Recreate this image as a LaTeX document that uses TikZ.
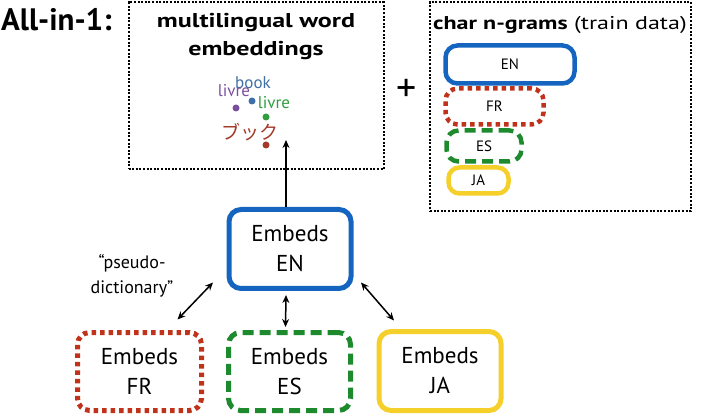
\documentclass[tikz,border=0pt]{standalone}
\usepackage{fontspec}
\setmainfont{PT Sans}
\newfontfamily\titlefont{PT Sans}[FakeStretch=1.3]
\newfontfamily\jpfont{Noto Sans CJK JP}
\usetikzlibrary{arrows.meta,calc}
\definecolor{cblue}{HTML}{1565C0}
\definecolor{cred}{HTML}{C0321A}
\definecolor{cgreen}{HTML}{1E8A2E}
\definecolor{cyellow}{HTML}{F5CF2A}
\definecolor{cpurple}{HTML}{7B4F9E}
\definecolor{wblue}{HTML}{3F6FA8}
\definecolor{wgreen}{HTML}{2E9E3E}
\definecolor{wred}{HTML}{A33A2A}
\begin{document}
\begin{tikzpicture}[x=1pt,y=-1pt,
  bigbox/.style={rounded corners=12pt, line width=5pt, align=center,
    minimum width=122pt, minimum height=79pt, inner sep=0pt,
    font=\fontsize{23}{30}\selectfont},
  smallbox/.style={rounded corners=12pt, line width=4.5pt, inner sep=0pt,
    font=\fontsize{15}{15}\selectfont},
  solidblue/.style={draw=cblue},
  dotred/.style={draw=cred, dash pattern=on 4.5pt off 4pt},
  dashgreen/.style={draw=cgreen, dash pattern=on 11pt off 6pt},
  solidyellow/.style={draw=cyellow},
  outerbox/.style={draw=black, line width=2pt, dash pattern=on 2pt off 1.6pt, inner sep=0pt},
  dbl/.style={{Stealth[length=8pt,width=7pt]}-{Stealth[length=8pt,width=7pt]}, line width=1.5pt},
  sgl/.style={-{Stealth[length=8pt,width=7pt]}, line width=1.5pt},
  dot/.style={circle, inner sep=0pt, minimum size=7pt},
  word/.style={inner sep=0pt, font=\fontsize{17}{17}\selectfont}
]
\useasboundingbox (0,0) rectangle (706,419);

% heading
\node[font=\bfseries\fontsize{31}{31}\selectfont, anchor=west, inner sep=0pt] (allin) at (1,20) {All-in-1:};

% top box
\node[outerbox, minimum width=255pt, minimum height=167pt] (topbox) at (256,86) {};
\node[font=\titlefont\bfseries\fontsize{20}{28}\selectfont, align=center] (title) at (256,37) {multilingual word\\embeddings};

\node[dot, fill=cpurple] (dpurple) at (236,108) {};
\node[dot, fill=wblue] (dblue) at (252,101) {};
\node[dot, fill=wgreen] (dgreen) at (266,117) {};
\node[dot, fill=wred] (dred) at (266,145) {};
\node[word, text=wblue] (wbook) at (253,83) {book};
\node[word, text=cpurple] (wlivre1) at (234,91) {livre};
\node[word, text=wgreen] (wlivre2) at (274,103) {livre};
\node[word, text=wred, font=\jpfont\fontsize{19}{19}\selectfont] (wja) at (250,132) {ブック};

% plus
\node[font=\fontsize{40}{40}\selectfont, inner sep=0pt] (plus) at (407,90) {+};

% right box
\node[outerbox, minimum width=261pt, minimum height=209pt] (rightbox) at (560.5,106.5) {};
\node[font=\titlefont\fontsize{18.5}{18.5}\selectfont, inner sep=0pt] (chartitle) at (560,25) {\textbf{char n-grams} (train data)};
\node[smallbox, solidblue, minimum width=129pt, minimum height=38pt] (sen) at (510,64.5) {EN};
\node[smallbox, dotred, minimum width=98pt, minimum height=36pt] (sfr) at (494.5,106.5) {FR};
\node[smallbox, dashgreen, minimum width=75pt, minimum height=31pt] (ses) at (484,146) {ES};
\node[smallbox, solidyellow, minimum width=60pt, minimum height=26pt, rounded corners=11pt] (sja) at (478.5,180.5) {JA};

% bottom boxes
\node[bigbox, solidblue] (en) at (290,249) {Embeds\\EN};
\node[bigbox, dotred, minimum width=124pt, minimum height=78pt] (fr) at (139.5,371.5) {Embeds\\FR};
\node[bigbox, dashgreen, minimum height=78pt] (es) at (289.5,371.5) {Embeds\\ES};
\node[bigbox, solidyellow] (ja) at (440,371) {Embeds\\JA};

\node[font=\fontsize{18}{25}\selectfont, align=center] (pseudo) at (132,276) {``pseudo-\\dictionary''};

% arrows
\coordinate (embtip) at (286,140);
\draw[sgl] (en.north -| embtip) -- (embtip);
\draw[dbl] ($(fr.north east)+(-26.5,-10.5)$) -- ($(en.south west)+(-13.5,-8.5)$);
\draw[dbl] ($(en.south)+(-4,4)$) -- ($(es.north)+(-4,-3)$);
\draw[dbl] ($(en.south east)+(7.5,-8.5)$) -- ($(ja.north west)+(17.5,-8.5)$);
\end{tikzpicture}
\end{document}
